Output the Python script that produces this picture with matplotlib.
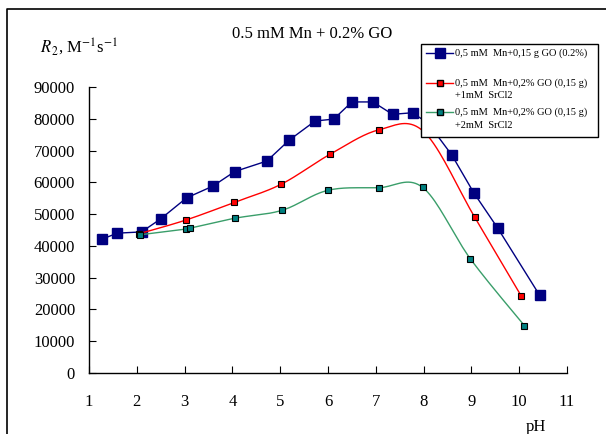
import numpy as np
import matplotlib
matplotlib.use('Agg')
import matplotlib.pyplot as plt
from matplotlib.lines import Line2D
from matplotlib.patches import Rectangle

plt.rcParams['font.family'] = ['Liberation Serif', 'DejaVu Serif']
plt.rcParams['mathtext.fontset'] = 'stix'

# данные
ph_go = [1.27, 1.59, 2.10, 2.50, 3.04, 3.59, 4.05, 4.72, 5.19, 5.73, 6.12, 6.50,
         6.94, 7.35, 7.77, 8.10, 8.59, 9.05, 9.55, 10.43]
r2_go = [42100, 44000, 44400, 48500, 55100, 58800, 63400, 66700, 73300, 79300, 79900, 85300,
         85300, 81400, 81900, 78500, 68600, 56700, 45600, 24400]

ph_sr1 = [2.04, 3.02, 4.04, 5.02, 6.04, 7.06, 8.00, 9.07, 10.04]
r2_sr1 = [43800, 48100, 53700, 59400, 68800, 76500, 76000, 49000, 24300]

ph_sr2 = [2.07, 3.02, 3.12, 4.05, 5.04, 6.00, 7.06, 7.98, 8.98, 10.11]
r2_sr2 = [43500, 45300, 45600, 48700, 51200, 57500, 58300, 58400, 35900, 14900]

labels = ['0,5 mM  Mn+0,15 g GO (0.2%)',
          '0,5 mM  Mn+0,2% GO (0,15 g)',
          '0,5 mM  Mn+0,2% GO (0,15 g)']
labels2 = ['', '+1mM  SrCl2', '+2mM  SrCl2']


def smooth(x, y, n=20):
    # сглаживание как в Excel (кривые Безье), считаем в пикселях
    sx, sy = 47.8, 31.7 / 10000
    p = np.column_stack([np.array(x) * sx, np.array(y) * sy])
    pts = [p[0]]
    for i in range(len(p) - 1):
        p0 = p[i - 1] if i > 0 else p[i]
        p3 = p[i + 2] if i + 2 < len(p) else p[i + 1]
        p1, p2 = p[i], p[i + 1]
        c1 = p1 + (p2 - p0) / 6
        c2 = p2 - (p3 - p1) / 6
        t = np.linspace(0, 1, n)[1:, None]
        b = (1 - t) ** 3 * p1 + 3 * (1 - t) ** 2 * t * c1 + 3 * (1 - t) * t ** 2 * c2 + t ** 3 * p2
        pts.extend(b)
    pts = np.array(pts)
    return pts[:, 0] / sx, pts[:, 1] / sy


fig = plt.figure(figsize=(6.06, 4.34), dpi=100)
ax = fig.add_axes([89 / 606, 61 / 434, 478 / 606, 286 / 434])

ax.plot(ph_go, r2_go, color='#000080', lw=1, marker='s', ms=7.5, mfc='#000080', mec='#000080')

xs, ys = smooth(ph_sr1, r2_sr1)
ax.plot(xs, ys, color='#ff0000', lw=1)
ax.plot(ph_sr1, r2_sr1, ls='none', marker='s', ms=5, mfc='#ff0000', mec='black', mew=0.8)

xs, ys = smooth(ph_sr2, r2_sr2)
ax.plot(xs, ys, color='#3a9e6a', lw=1)
ax.plot(ph_sr2, r2_sr2, ls='none', marker='s', ms=5, mfc='#008080', mec='black', mew=0.8)

ax.set_xlim(1, 11)
ax.set_ylim(0, 90000)
ax.set_xticks(range(1, 12))
ax.set_yticks(range(0, 90001, 10000))
ax.spines['top'].set_visible(False)
ax.spines['right'].set_visible(False)
for s in ['left', 'bottom']:
    ax.spines[s].set_linewidth(1)
ax.tick_params(axis='y', direction='in', length=5, labelsize=12, pad=10)
ax.tick_params(axis='x', direction='in', length=5, labelsize=12, pad=15)

fig.text(312 / 606, 1 - 34 / 434, '0.5 mM Mn + 0.2% GO', ha='center', va='center', fontsize=12)
fig.text(40 / 606, 1 - 47 / 434, r'$\mathit{R}_{\,2}$, M$^{-1}$s$^{-1}$', ha='left', va='center', fontsize=12)
fig.text(536 / 606, 1 - 427 / 434, 'pH', ha='center', va='center', fontsize=12)

# легенда вручную
fig.patches.append(Rectangle((421 / 606, 1 - 137 / 434), 177 / 606, 93 / 434,
                             transform=fig.transFigure, fc='white', ec='black', lw=1, zorder=5))
styles = [dict(color='#000080', mfc='#000080', mec='#000080', ms=7.5),
          dict(color='#ff0000', mfc='#ff0000', mec='black', ms=5),
          dict(color='#3a9e6a', mfc='#008080', mec='black', ms=5)]
rows = [53, 83, 112]
for lab, lab2, st, yy in zip(labels, labels2, styles, rows):
    yf = 1 - yy / 434
    fig.lines.append(Line2D([426 / 606, 453 / 606], [yf, yf], transform=fig.transFigure,
                            lw=1, zorder=6, color=st['color']))
    fig.lines.append(Line2D([439.5 / 606], [yf], transform=fig.transFigure, marker='s',
                            ms=st['ms'], mfc=st['mfc'], mec=st['mec'], zorder=7))
    fig.text(455 / 606, yf, lab, ha='left', va='center', fontsize=7.5, zorder=8)
    if lab2:
        fig.text(455 / 606, yf - 13 / 434, lab2, ha='left', va='center', fontsize=7.5, zorder=8)

# рамка
fig.lines.append(Line2D([7 / 606, 7 / 606, 1], [0, 1 - 9 / 434, 1 - 9 / 434],
                        transform=fig.transFigure, color='black', lw=1.2))

fig.savefig('out.png', dpi=100)
